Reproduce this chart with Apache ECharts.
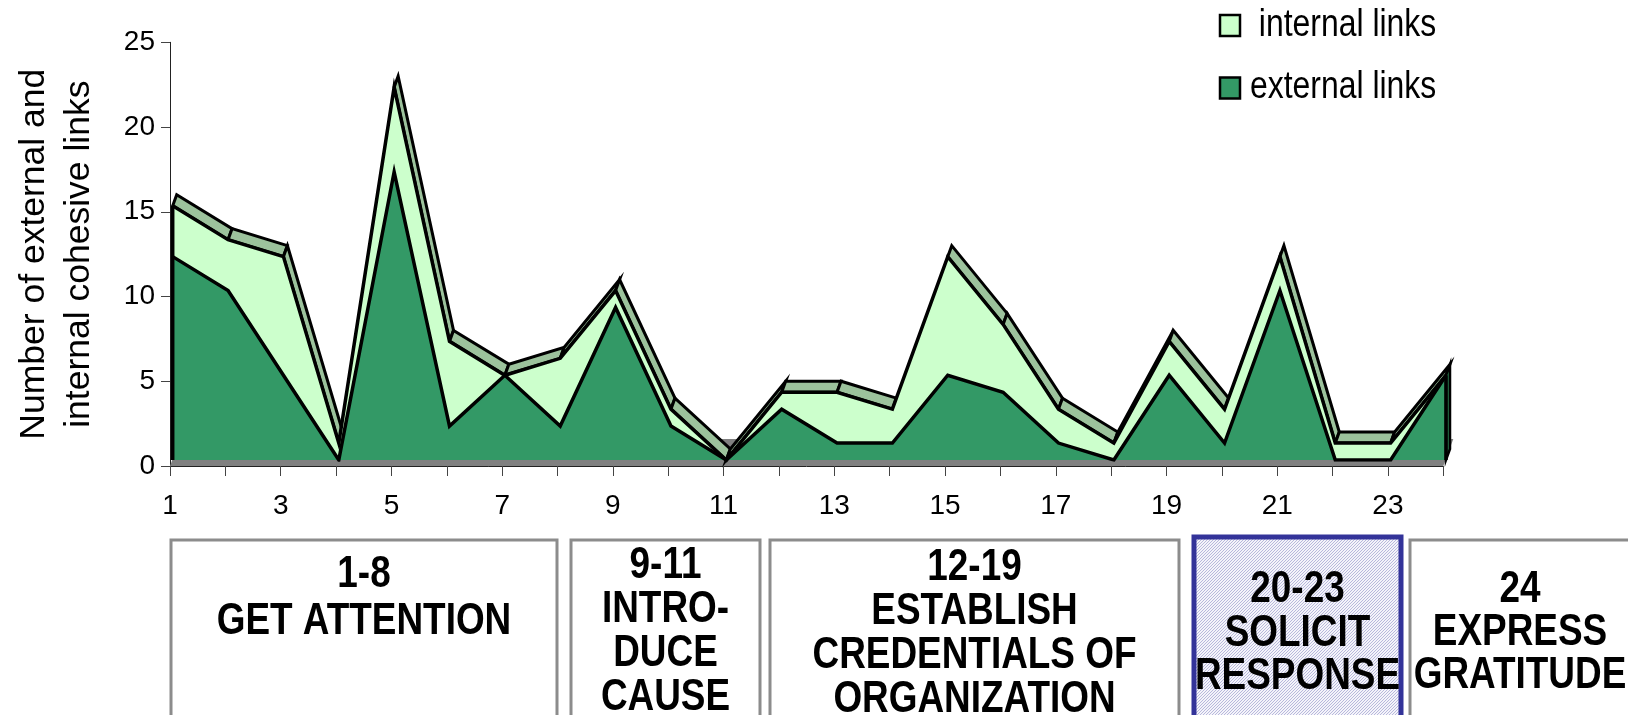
<!DOCTYPE html>
<html>
<head>
<meta charset="utf-8">
<script src="https://cdn.jsdelivr.net/npm/echarts@6/dist/echarts.min.js"></script>
<style>
  html, body { margin: 0; padding: 0; background: #ffffff; }
  #chart { width: 1628px; height: 715px; }
</style>
</head>
<body>
<div id="chart"></div>
<script>
// Paragraph numbers of the letter (x categories)
const categories = ['1','2','3','4','5','6','7','8','9','10','11','12',
                    '13','14','15','16','17','18','19','20','21','22','23','24'];
// Cohesive links per paragraph
const externalLinks = [12, 10, 5, 0, 17, 2, 5, 2, 9, 2, 0, 3, 1, 1, 5, 4, 1, 0, 5, 1, 10, 0, 0, 5];
const internalLinks = [3, 3, 7, 1, 5, 5, 0, 4, 1, 1, 0, 1, 3, 2, 7, 4, 2, 1, 2, 2, 2, 1, 1, 0];
// Value axis
const yMin = 0, yMax = 25, yStep = 5;
// Series names
const seriesNames = { internal: ' internal links', external: 'external links' };
const yAxisTitle = 'Number of external and\ninternal cohesive links';
// Move structure of the letter, shown under the axis
const sectionLabels = [
  ['1-8', 'GET ATTENTION'],
  ['9-11', 'INTRO-', 'DUCE', 'CAUSE'],
  ['12-19', 'ESTABLISH', 'CREDENTIALS OF', 'ORGANIZATION'],
  ['20-23', 'SOLICIT', 'RESPONSE'],
  ['24', 'EXPRESS', 'GRATITUDE']
];
const highlightedSection = 3;

// ---- styling / layout ----
const FONT = '"Liberation Sans", Arial, sans-serif';
const EXT_FILL = '#339966';
const INT_FILL = '#CCFFCC';
const TOP_FACE = '#9CC29C';
const SIDE_EXT = '#27794C';
const SIDE_INT = '#A9D9A9';
const FLOOR = '#808080';
const EDGE_W = 3.5;
const DEPTH = [4, -11];        // depth of the extruded areas
const FLOOR_DEPTH = [10, -27]; // depth of the floor
const PLOT = { left: 170, top: 42.3, width: 1273.3, height: 423.7 };
const FRONT_SHIFT = [2.7, -6]; // front face sits slightly behind the floor edge

const totals = externalLinks.map((v, i) => v + internalLinks[i]);
const lastIdx = categories.length - 1;

const chart = echarts.init(document.getElementById('chart'), null, { renderer: 'canvas' });

const offset = (p, d) => [p[0] + d[0], p[1] + d[1]];

// top surface of the stack, one quad per segment; faces turned away are hidden by the front
const ribbonData = totals.slice(0, -1).map((t, i) => [i, t, totals[i + 1]]);
function renderRibbon(params, api) {
  const i = api.value(0);
  const a = api.coord([i, api.value(1)]);
  const b = api.coord([i + 1, api.value(2)]);
  const facing = (b[0] - a[0]) * DEPTH[1] - (b[1] - a[1]) * DEPTH[0];
  if (facing >= 0) return null;
  return {
    type: 'polygon',
    shape: { points: [a, b, offset(b, DEPTH), offset(a, DEPTH)] },
    style: { fill: TOP_FACE, stroke: '#000', lineWidth: 3, lineJoin: 'miter' }
  };
}

function renderFloor(params, api) {
  const p0 = api.coord([0, yMin]);
  const p1 = api.coord([lastIdx, yMin]);
  return {
    type: 'polygon',
    shape: { points: [p0, p1, offset(p1, FLOOR_DEPTH), offset(p0, FLOOR_DEPTH)] },
    style: { fill: FLOOR }
  };
}

// left front edge and the visible right end of the extrusion
const edgeData = [[0, externalLinks[0], totals[0]], [lastIdx, externalLinks[lastIdx], totals[lastIdx]]];
function renderEdges(params, api) {
  const i = api.value(0);
  const f0 = api.coord([i, 0]);
  const fe = api.coord([i, api.value(1)]);
  const ft = api.coord([i, api.value(2)]);
  const children = [];
  if (i === lastIdx) {
    children.push({
      type: 'polygon',
      shape: { points: [f0, fe, offset(fe, DEPTH), offset(f0, DEPTH)] },
      style: { fill: SIDE_EXT, stroke: '#000', lineWidth: 2.5, lineJoin: 'miter' }
    });
    if (ft[1] < fe[1]) {
      children.push({
        type: 'polygon',
        shape: { points: [fe, ft, offset(ft, DEPTH), offset(fe, DEPTH)] },
        style: { fill: SIDE_INT, stroke: '#000', lineWidth: 2.5, lineJoin: 'miter' }
      });
    }
  }
  children.push({
    type: 'line',
    shape: { x1: f0[0], y1: f0[1], x2: ft[0], y2: ft[1] },
    style: { stroke: '#000', lineWidth: EDGE_W }
  });
  return { type: 'group', children };
}

// fine dotted fill for the highlighted section box
function dotPattern() {
  const c = document.createElement('canvas');
  c.width = 3; c.height = 3;
  const g = c.getContext('2d');
  g.fillStyle = '#F4F4FA';
  g.fillRect(0, 0, 3, 3);
  g.fillStyle = '#B8B8DC';
  g.fillRect(0, 0, 1, 1);
  g.fillRect(2, 1, 1, 1);
  g.fillRect(1, 2, 1, 1);
  return { image: c, repeat: 'repeat' };
}

const graphics = [];

// legend: filled squares with condensed labels
const legendItems = [
  { name: seriesNames.internal, color: INT_FILL, y: 25.5 },
  { name: seriesNames.external, color: EXT_FILL, y: 88 }
];
legendItems.forEach(it => {
  graphics.push({
    type: 'rect',
    shape: { x: 1220, y: it.y - 10.5, width: 20, height: 21 },
    style: { fill: it.color, stroke: '#000', lineWidth: 2.5 },
    z: 10
  });
  graphics.push({
    type: 'text',
    x: 1250, y: it.y,
    scaleX: 0.84,
    style: {
      text: it.name, fill: '#000', font: '38px ' + FONT,
      textAlign: 'left', textVerticalAlign: 'middle',
      align: 'left', verticalAlign: 'middle'
    },
    z: 10
  });
});

// boxes with the section names
const sectionBoxes = [
  { x: 171, w: 386, top: 540, cx: 364, firstLine: 575, step: 47 },
  { x: 571, w: 189, top: 540, cx: 665.5, firstLine: 566, step: 44 },
  { x: 770, w: 409, top: 540, cx: 974.5, firstLine: 568, step: 44 },
  { x: 1194, w: 207, top: 537, cx: 1297.5, firstLine: 590, step: 43.5 },
  { x: 1410, w: 230, top: 540, cx: 1520, firstLine: 590, step: 43 }
];
const boxPattern = dotPattern();
sectionLabels.forEach((lines, k) => {
  const b = sectionBoxes[k];
  const hi = k === highlightedSection;
  graphics.push({
    type: 'rect',
    shape: { x: b.x, y: b.top, width: b.w, height: 260 },
    style: hi ? { fill: boxPattern, stroke: '#333399', lineWidth: 5 }
              : { fill: '#ffffff', stroke: '#8C8C8C', lineWidth: 3 },
    z: 10
  });
  lines.forEach((txt, j) => {
    graphics.push({
      type: 'text',
      x: b.cx, y: b.firstLine + j * b.step,
      scaleX: 0.82,
      style: {
        text: txt, fill: '#000',
        font: 'bold 45px ' + FONT,
        textAlign: 'center', textVerticalAlign: 'middle',
        align: 'center', verticalAlign: 'middle'
      },
      z: 11
    });
  });
});

const option = {
  animation: false,
  backgroundColor: '#ffffff',
  textStyle: { fontFamily: FONT },
  grid: [
    Object.assign({ containLabel: false, outerBoundsMode: 'none' }, PLOT),
    Object.assign({ containLabel: false, outerBoundsMode: 'none' }, PLOT,
      { left: PLOT.left + FRONT_SHIFT[0], top: PLOT.top + FRONT_SHIFT[1] })
  ],
  xAxis: [
    {
      type: 'category', gridIndex: 0, data: categories, boundaryGap: false,
      axisLine: { lineStyle: { color: '#222', width: 1 } },
      axisTick: { show: true, interval: 0, length: 10, lineStyle: { color: '#444', width: 1 } },
      axisLabel: { interval: 1, color: '#000', fontSize: 28, margin: 26, fontFamily: FONT },
      splitLine: { show: false }
    },
    { type: 'category', gridIndex: 1, data: categories, boundaryGap: false, show: false }
  ],
  yAxis: [
    {
      type: 'value', gridIndex: 0, min: yMin, max: yMax, interval: yStep,
      name: yAxisTitle, nameLocation: 'middle', nameGap: 68, nameRotate: 90,
      nameMoveOverlap: false,
      nameTextStyle: { fontSize: 35.5, lineHeight: 45, color: '#000', fontFamily: FONT },
      axisLine: { show: true, lineStyle: { color: '#222', width: 1 } },
      axisTick: { show: true, length: 9, lineStyle: { color: '#444', width: 1 } },
      axisLabel: { color: '#000', fontSize: 28, margin: 15, fontFamily: FONT },
      splitLine: { show: false }
    },
    { type: 'value', gridIndex: 1, min: yMin, max: yMax, interval: yStep, show: false }
  ],
  series: [
    {
      type: 'custom', name: 'floor', xAxisIndex: 0, yAxisIndex: 0,
      data: [[0]], renderItem: renderFloor, z: 1, silent: true
    },
    {
      type: 'custom', name: 'top', xAxisIndex: 1, yAxisIndex: 1,
      data: ribbonData, encode: { x: 0, y: 1 }, renderItem: renderRibbon, z: 2, silent: true
    },
    {
      // bottom of the stack
      type: 'line', name: seriesNames.external, xAxisIndex: 1, yAxisIndex: 1,
      stack: 'links', data: externalLinks, symbol: 'none', showSymbol: false,
      itemStyle: { color: EXT_FILL },
      lineStyle: { color: '#000', width: EDGE_W, join: 'miter', miterLimit: 20 },
      areaStyle: { color: EXT_FILL, opacity: 1 },
      z: 4
    },
    {
      type: 'line', name: seriesNames.internal, xAxisIndex: 1, yAxisIndex: 1,
      stack: 'links', data: internalLinks, symbol: 'none', showSymbol: false,
      itemStyle: { color: INT_FILL },
      lineStyle: { color: '#000', width: EDGE_W, join: 'miter', miterLimit: 20 },
      areaStyle: { color: INT_FILL, opacity: 1 },
      z: 3
    },
    {
      type: 'custom', name: 'edges', xAxisIndex: 1, yAxisIndex: 1,
      data: edgeData, encode: { x: 0, y: 2 }, renderItem: renderEdges, z: 5, silent: true
    }
  ],
  graphic: graphics
};

chart.setOption(option);
</script>
</body>
</html>
